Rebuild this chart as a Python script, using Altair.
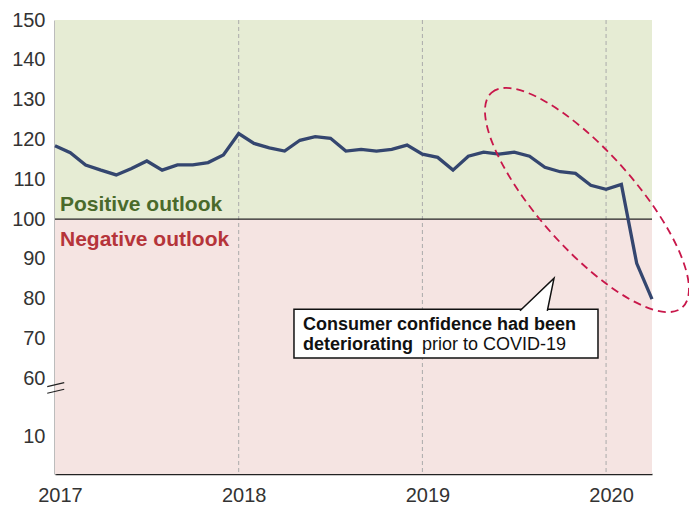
import altair as alt
import pandas as pd

# ---- data -------------------------------------------------------------
months = ([f"{y}-{m:02d}" for y in (2017, 2018, 2019) for m in range(1, 13)]
          + ["2020-01", "2020-02", "2020-03", "2020-04"])
confidence = [
    118.4, 116.7, 113.6, 112.3, 111.1, 112.7, 114.6, 112.3, 113.6, 113.6, 114.2, 116.1,
    121.5, 119.0, 117.9, 117.1, 119.8, 120.7, 120.3, 117.1, 117.5, 117.1, 117.5, 118.6,
    116.3, 115.5, 112.3, 115.8, 116.8, 116.3, 116.8, 115.8, 113.0, 111.9, 111.5, 108.5,
    107.5, 108.7, 88.9, 79.9,
]
year_ticks = [2017, 2018, 2019, 2020]
grid_years = [2018, 2019, 2020]
# y axis with a break: display units below 60 are compressed ("10" drawn at 45.5)
y_tick_pos = [45.5, 60, 70, 80, 90, 100, 110, 120, 130, 140, 150]
X_MIN, X_MAX = 2017.0, 2020.25
Y_MIN, Y_MAX = 36.0, 150.0

df = pd.DataFrame({"month": months, "value": confidence})
df["t"] = df["month"].str[:4].astype(int) + (df["month"].str[5:].astype(int) - 1) / 12

FONT = "Liberation Sans"
W, H = 597, 454

xs = alt.Scale(domain=[X_MIN, X_MAX], nice=False, zero=False)
ys = alt.Scale(domain=[Y_MIN, Y_MAX], nice=False, zero=False)

# ---- background zones -------------------------------------------------
zones = pd.DataFrame({
    "x": [X_MIN, X_MIN], "x2": [X_MAX, X_MAX],
    "y": [100, Y_MIN], "y2": [Y_MAX, 100],
    "zone": ["pos", "neg"],
})
bg = alt.Chart(zones).mark_rect().encode(
    x=alt.X("x:Q", scale=xs, axis=alt.Axis(
        values=year_ticks, format="d", title=None, ticks=False, grid=False,
        domainColor="#222", domainWidth=1.5, labelFont=FONT, labelFontSize=20,
        labelColor="#333", labelPadding=11, labelFlush=False, labelOffset=5)),
    x2="x2:Q",
    y=alt.Y("y:Q", scale=ys, axis=alt.Axis(
        values=y_tick_pos, title=None, ticks=False, grid=False,
        domainColor="#7a7a7a", domainWidth=2, labelFont=FONT, labelFontSize=20,
        labelColor="#333", labelPadding=10,
        labelExpr="datum.value < 50 ? '10' : format(datum.value, 'd')")),
    y2="y2:Q",
    color=alt.Color("zone:N", scale=alt.Scale(domain=["pos", "neg"],
                                               range=["#e6ecd4", "#f5e4e2"]), legend=None),
)

grid = alt.Chart(pd.DataFrame({"x": grid_years})).mark_rule(
    color="#aaaaaa", strokeDash=[4, 3], strokeWidth=1
).encode(x=alt.X("x:Q", scale=xs), y=alt.value(0), y2=alt.value(H))

hundred = alt.Chart(pd.DataFrame({"y": [100]})).mark_rule(
    color="#222", strokeWidth=1.2
).encode(y=alt.Y("y:Q", scale=ys), x=alt.value(0), x2=alt.value(W))

line = alt.Chart(df).mark_line(color="#34466f", strokeWidth=3.3).encode(
    x=alt.X("t:Q", scale=xs), y=alt.Y("value:Q", scale=ys))

# ---- annotations ------------------------------------------------------
ellipse_path = ("M -1 0 C -1 -0.186 -0.552 -0.337 0 -0.337 "
                "C 0.552 -0.337 1 -0.186 1 0 "
                "C 1 0.186 0.552 0.337 0 0.337 "
                "C -0.552 0.337 -1 0.186 -1 0 Z")
ell = alt.Chart(pd.DataFrame({"t": [2019.896], "v": [104.8]})).mark_point(
    shape=ellipse_path, size=82500, angle=48.4, filled=False, opacity=1,
    stroke="#c8174a", strokeWidth=1.8, strokeDash=[8, 5]
).encode(x=alt.X("t:Q", scale=xs), y=alt.Y("v:Q", scale=ys))

box = alt.Chart(pd.DataFrame({"x": [2018.301], "x2": [2019.956],
                              "y": [65.1], "y2": [77.4]})).mark_rect(
    fill="white", stroke="#111", strokeWidth=1.5
).encode(x=alt.X("x:Q", scale=xs), x2="x2:Q", y=alt.Y("y:Q", scale=ys), y2="y2:Q")

pointer_path = "M -0.85 0.84 L 0.85 -0.785 L 0.515 0.84"
pointer = alt.Chart(pd.DataFrame({"t": [2019.624], "v": [81.2]})).mark_point(
    shape=pointer_path, size=1600, filled=False, opacity=1, fill="white",
    stroke="#111", strokeWidth=1.5, strokeJoin="miter"
).encode(x=alt.X("t:Q", scale=xs), y=alt.Y("v:Q", scale=ys))

texts = pd.DataFrame({
    "t": [2018.350, 2018.350, 2018.998],
    "v": [72.15, 67.25, 67.25],
    "txt": ["Consumer confidence had been", "deteriorating", "prior to COVID-19"],
    "w": ["bold", "bold", "normal"],
})
bold_t = alt.Chart(texts[texts.w == "bold"]).mark_text(
    align="left", baseline="alphabetic", font=FONT, fontSize=18, fontWeight="bold", color="#111"
).encode(x=alt.X("t:Q", scale=xs), y=alt.Y("v:Q", scale=ys), text="txt:N")
norm_t = alt.Chart(texts[texts.w == "normal"]).mark_text(
    align="left", baseline="alphabetic", font=FONT, fontSize=18, color="#111"
).encode(x=alt.X("t:Q", scale=xs), y=alt.Y("v:Q", scale=ys), text="txt:N")

zone_lbl = pd.DataFrame({"t": [2017.027, 2017.027], "v": [102.1, 93.25],
                         "txt": ["Positive outlook", "Negative outlook"],
                         "zone": ["pos", "neg"]})
zone_t = alt.Chart(zone_lbl).mark_text(
    align="left", baseline="alphabetic", font=FONT, fontSize=21, fontWeight="bold"
).encode(x=alt.X("t:Q", scale=xs), y=alt.Y("v:Q", scale=ys), text="txt:N",
         color=alt.Color("zone:N", scale=alt.Scale(domain=["pos", "neg"],
                                                    range=["#4a6a2b", "#b5343a"]), legend=None))

break_path = "M -1 -0.15 L 1 -0.62 M -1 0.62 L 1 0.15"
brk = alt.Chart(pd.DataFrame({"t": [2017.004], "v": [57.6]})).mark_point(
    shape=break_path, size=289, filled=False, opacity=1, stroke="#222", strokeWidth=1.2
).encode(x=alt.X("t:Q", scale=xs), y=alt.Y("v:Q", scale=ys))

chart = alt.layer(bg, grid, hundred, line, ell, box, pointer, bold_t, norm_t, zone_t, brk).resolve_scale(
    color="independent"
).properties(
    width=W, height=H,
    autosize=alt.AutoSizeParams(type="none"),
    padding={"left": 47, "top": 12, "right": 37, "bottom": 30},
).configure_view(strokeWidth=0)

chart.save("out.html", embed_options={"renderer": "svg", "actions": False})
